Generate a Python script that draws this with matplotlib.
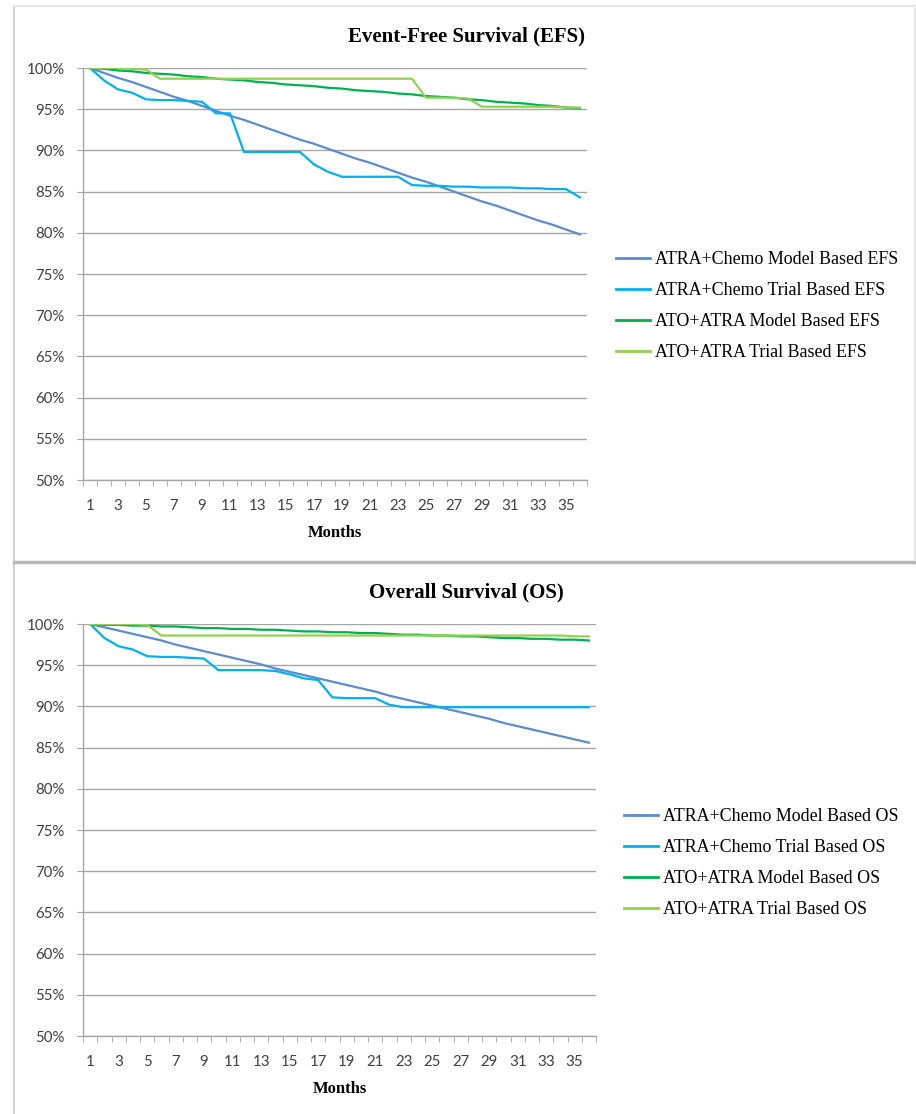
import matplotlib.pyplot as plt
from matplotlib.lines import Line2D

months = list(range(1, 37))

# Event-free survival (%)
efs_chemo_model = [100.0, 99.4, 98.8, 98.3, 97.7, 97.1, 96.5, 96.0, 95.4, 94.8,
                   94.2, 93.7, 93.1, 92.5, 91.9, 91.3, 90.8, 90.2, 89.6, 89.0,
                   88.5, 87.9, 87.3, 86.7, 86.2, 85.6, 85.0, 84.4, 83.8, 83.3,
                   82.7, 82.1, 81.5, 81.0, 80.4, 79.8]
efs_chemo_trial = [100.0, 98.5, 97.4, 97.0, 96.2, 96.1, 96.1, 96.0, 95.9, 94.5,
                   94.5, 89.8, 89.8, 89.8, 89.8, 89.8, 88.3, 87.4, 86.8, 86.8,
                   86.8, 86.8, 86.8, 85.8, 85.7, 85.7, 85.6, 85.6, 85.5, 85.5,
                   85.5, 85.4, 85.4, 85.3, 85.3, 84.3]
efs_ato_model = [100.0, 99.9, 99.7, 99.6, 99.4, 99.3, 99.2, 99.0, 98.9, 98.7,
                 98.6, 98.5, 98.3, 98.2, 98.0, 97.9, 97.8, 97.6, 97.5, 97.3,
                 97.2, 97.1, 96.9, 96.8, 96.6, 96.5, 96.4, 96.2, 96.1, 95.9,
                 95.8, 95.7, 95.5, 95.4, 95.2, 95.1]
efs_ato_trial = [100.0, 100.0, 100.0, 99.9, 99.8, 98.7, 98.7, 98.7, 98.7, 98.7,
                 98.7, 98.7, 98.7, 98.7, 98.7, 98.7, 98.7, 98.7, 98.7, 98.7,
                 98.7, 98.7, 98.7, 98.7, 96.4, 96.4, 96.4, 96.3, 95.3, 95.3,
                 95.3, 95.3, 95.3, 95.3, 95.2, 95.2]

# Overall survival (%)
os_chemo_model = [100.0, 99.6, 99.2, 98.8, 98.4, 98.0, 97.5, 97.1, 96.7, 96.3,
                  95.9, 95.5, 95.1, 94.6, 94.2, 93.8, 93.4, 93.0, 92.6, 92.2,
                  91.8, 91.3, 90.9, 90.5, 90.1, 89.7, 89.3, 88.9, 88.5, 88.0,
                  87.6, 87.2, 86.8, 86.4, 86.0, 85.6]
os_chemo_trial = [100.0, 98.3, 97.3, 96.9, 96.1, 96.0, 96.0, 95.9, 95.8, 94.4,
                  94.4, 94.4, 94.4, 94.3, 93.9, 93.4, 93.2, 91.1, 91.0, 91.0,
                  91.0, 90.2, 89.9, 89.9, 89.9, 89.9, 89.9, 89.9, 89.9, 89.9,
                  89.9, 89.9, 89.9, 89.9, 89.9, 89.9]
os_ato_model = [100.0, 99.9, 99.9, 99.8, 99.8, 99.7, 99.7, 99.6, 99.5, 99.5,
                99.4, 99.4, 99.3, 99.3, 99.2, 99.1, 99.1, 99.0, 99.0, 98.9,
                98.9, 98.8, 98.7, 98.7, 98.6, 98.6, 98.5, 98.5, 98.4, 98.3,
                98.3, 98.2, 98.2, 98.1, 98.1, 98.0]
os_ato_trial = [100.0, 100.0, 100.0, 100.0, 99.9, 98.6, 98.6, 98.6, 98.6, 98.6,
                98.6, 98.6, 98.6, 98.6, 98.6, 98.6, 98.6, 98.6, 98.6, 98.6,
                98.6, 98.6, 98.6, 98.6, 98.6, 98.6, 98.6, 98.6, 98.6, 98.6,
                98.6, 98.6, 98.6, 98.6, 98.5, 98.5]

colors = ['#5b8bd0', '#00b0f0', '#00b050', '#92d050']
grid_c = '#a6a6a6'
serif = 'Liberation Serif'
sans = 'Lato'

W, H = 916, 1114
fig = plt.figure(figsize=(W / 100, H / 100), dpi=100)


def px_rect(l, t, r, b):
    return [l / W, 1 - b / H, (r - l) / W, (b - t) / H]


def draw_panel(rect, series, labels, title, title_y, leg_x, leg_top):
    ax = fig.add_axes(rect)
    for s, lab, c in zip(series, labels, colors):
        ax.plot(months, s, color=c, lw=1.6, label=lab, zorder=3)
    ax.set_xlim(0.5, 36.5)
    ax.set_ylim(50, 100)
    ax.set_yticks(range(50, 101, 5))
    ax.set_yticklabels([f'{v}%' for v in range(50, 101, 5)], fontsize=10.8, family=sans, color='#404040')
    ax.yaxis.grid(True, color=grid_c, lw=1.0)
    ax.set_axisbelow(True)
    ax.set_xticks(range(1, 37, 2))
    ax.set_xticklabels([str(m) for m in range(1, 37, 2)], fontsize=10.8, family=sans, color='#404040')
    ax.set_xticks([m + 0.5 for m in range(0, 37)], minor=True)
    ax.tick_params(axis='x', which='major', length=0, pad=14)
    ax.tick_params(axis='x', which='minor', length=4, color=grid_c, direction='out')
    ax.tick_params(axis='y', length=4, color=grid_c, pad=9)
    for sp in ['top', 'right']:
        ax.spines[sp].set_visible(False)
    for sp in ['left', 'bottom']:
        ax.spines[sp].set_color(grid_c)
        ax.spines[sp].set_linewidth(1.0)
    ax.set_xlabel('Months', fontsize=12, family=serif, fontweight='bold', labelpad=8)
    fig.text(466 / W, 1 - title_y / H, title, ha='center', va='center',
             fontsize=15, family=serif, fontweight='bold')
    handles = [Line2D([], [], color=c, lw=2) for c in colors]
    fig.legend(handles, labels, loc='upper left',
               bbox_to_anchor=(leg_x / W, 1 - leg_top / H), frameon=False,
               prop={'family': serif, 'size': 12.9}, handlelength=1.9,
               handletextpad=0.25, labelspacing=0.78)
    return ax


draw_panel(px_rect(83, 68, 587, 480),
           [efs_chemo_model, efs_chemo_trial, efs_ato_model, efs_ato_trial],
           ['ATRA+Chemo Model Based EFS', 'ATRA+Chemo Trial Based EFS',
            'ATO+ATRA Model Based EFS', 'ATO+ATRA Trial Based EFS'],
           'Event-Free Survival (EFS)', 36, 600, 235)

draw_panel(px_rect(83, 624, 596, 1036),
           [os_chemo_model, os_chemo_trial, os_ato_model, os_ato_trial],
           ['ATRA+Chemo Model Based OS', 'ATRA+Chemo Trial Based OS',
            'ATO+ATRA Model Based OS', 'ATO+ATRA Trial Based OS'],
           'Overall Survival (OS)', 592, 608, 792)

# chart borders
border = '#d0d0d0'
fig.add_artist(Line2D([14 / W, 14 / W], [0, 1 - 6 / H], color=border, lw=1.5))
fig.add_artist(Line2D([14 / W, 915 / W], [1 - 6 / H, 1 - 6 / H], color='#e6e6e6', lw=1.5))
fig.add_artist(Line2D([915 / W, 915 / W], [1 - 6 / H, 1 - 562 / H], color='#e6e6e6', lw=1.5))
fig.add_artist(Line2D([14 / W, 1], [1 - 562 / H, 1 - 562 / H], color='#b8b8b8', lw=2.5))

fig.savefig('out.png', dpi=100)
